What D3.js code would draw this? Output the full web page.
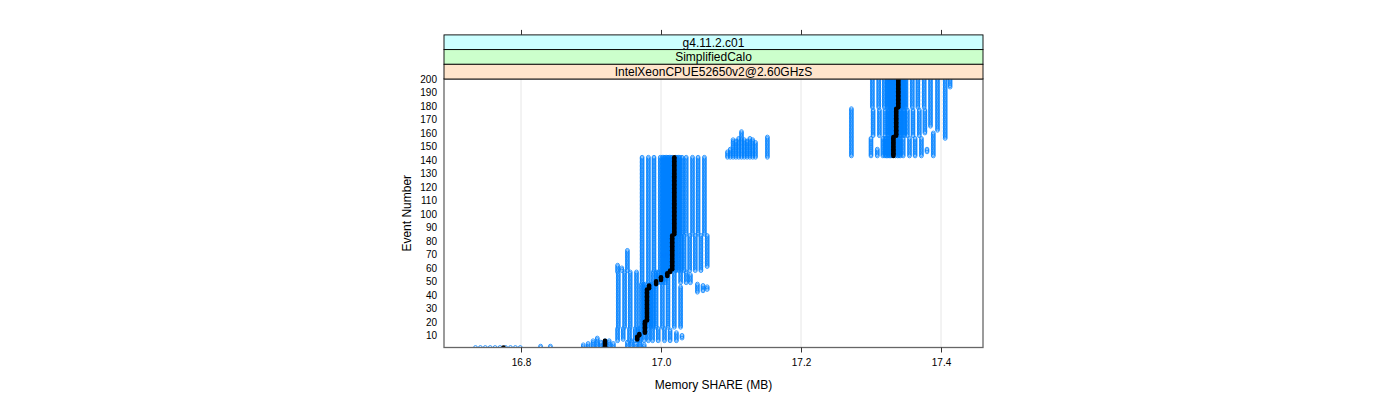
<!DOCTYPE html>
<html lang="en">

<head>
	<meta charset="UTF-8">
	<title>memory share</title>
	<script type="text/javascript" src="https://cdn.jsdelivr.net/npm/d3@7/dist/d3.min.js" charset="UTF-8"></script>
	<style>
		body { margin: 0; background: #fff; }
		text { font-family: "Liberation Sans", Arial, sans-serif; }
	</style>
</head>

<body>
	<script type="text/javascript">
	// strip labels, top to bottom
	let strips = ['g4.11.2.c01', 'SimplifiedCalo', 'IntelXeonCPUE52650v2@2.60GHzS']
	let stripColors = ['#ccffff', '#ccffcc', '#ffe5cc']

	let xTicks = [16.8, 17.0, 17.2, 17.4]
	let yTicks = [10, 20, 30, 40, 50, 60, 70, 80, 90, 100, 110, 120, 130, 140, 150, 160, 170, 180, 190, 200]

	// blue points, one column per entry: [memory MB, first event, last event]
	let lowTail = [
		[16.735, 1, 1], [16.742, 1, 1], [16.749, 1, 1], [16.756, 1, 1], [16.763, 1, 1],
		[16.770, 1, 1], [16.778, 1, 1], [16.785, 1, 1], [16.792, 1, 1], [16.799, 1, 1],
		[16.828, 1, 2], [16.842, 1, 2],
		[16.889, 1, 3], [16.896, 1, 4], [16.903, 1, 6], [16.909, 1, 8], [16.914, 1, 5],
		[16.920, 1, 6], [16.926, 1, 6], [16.932, 1, 4],
		[16.952, 1, 5], [16.958, 1, 6], [16.964, 1, 4], [16.970, 1, 5], [16.976, 1, 3]
	]

	let lowerBlock = [
		// events 6-15
		[16.938, 6, 15], [16.946, 7, 15], [16.955, 6, 15], [16.963, 6, 15], [16.967, 6, 15],
		[16.970, 6, 15], [16.976, 6, 15], [16.982, 6, 15], [16.988, 6, 15], [16.996, 6, 15],
		[17.005, 6, 15], [17.013, 6, 14], [17.022, 6, 12], [17.030, 8, 10],
		// events 16-48
		[16.939, 16, 48], [16.948, 16, 48], [16.956, 16, 48], [16.965, 16, 48], [16.972, 16, 48],
		[16.975, 16, 48], [16.978, 16, 48], [16.983, 16, 48], [16.986, 16, 48], [16.989, 16, 48],
		[16.993, 16, 48], [17.002, 16, 48], [17.010, 16, 48], [17.019, 16, 48], [17.028, 16, 46],
		[17.052, 42, 48], [17.060, 43, 47], [17.066, 44, 46],
		// events 49-57
		[16.939, 49, 56], [16.948, 49, 57], [16.956, 49, 57], [16.965, 49, 57], [16.973, 49, 57],
		[16.982, 49, 57], [16.989, 49, 57], [16.993, 49, 57], [16.996, 49, 57], [17.000, 49, 57],
		[17.003, 49, 57], [17.006, 49, 57], [17.010, 49, 57], [17.019, 49, 57], [17.028, 49, 57],
		[17.036, 49, 57], [17.042, 49, 55],
		// small columns left of the middle block
		[16.938, 57, 62], [16.944, 58, 60], [16.952, 58, 73]
	]

	let middleBlock = [
		// left part, events 58-142
		[16.973, 58, 142], [16.982, 58, 142], [16.990, 58, 142], [16.999, 58, 142],
		[17.002, 58, 142], [17.004, 58, 142], [17.006, 58, 142], [17.008, 58, 142],
		[17.010, 58, 142], [17.012, 58, 142], [17.014, 58, 142], [17.016, 58, 142],
		// right part, events 85-142
		[17.021, 85, 142], [17.023, 85, 142], [17.025, 85, 142], [17.027, 85, 142],
		[17.030, 85, 142], [17.036, 85, 142], [17.045, 85, 142], [17.053, 85, 142],
		[17.062, 85, 142],
		// right part, events 58-84
		[17.020, 58, 84], [17.022, 58, 84], [17.026, 58, 84], [17.029, 58, 84],
		[17.033, 58, 84], [17.041, 58, 84], [17.049, 58, 84], [17.057, 58, 84],
		[17.066, 61, 84]
	]

	let clusterB = [
		[17.095, 142, 146], [17.099, 142, 148], [17.103, 142, 155], [17.107, 142, 154],
		[17.111, 142, 156], [17.115, 142, 161], [17.119, 142, 155], [17.123, 142, 154],
		[17.127, 142, 156], [17.131, 142, 155], [17.135, 142, 153], [17.152, 142, 157]
	]

	let upperBlock = [
		[17.272, 143, 178],
		// events 179-200
		[17.302, 179, 200], [17.311, 179, 200], [17.319, 179, 200], [17.323, 179, 200],
		[17.325, 179, 200], [17.327, 179, 200], [17.329, 179, 200], [17.331, 179, 200],
		[17.333, 179, 200], [17.336, 179, 200], [17.342, 179, 200], [17.344, 179, 200],
		[17.346, 179, 200], [17.348, 179, 200], [17.350, 179, 200], [17.359, 179, 200],
		[17.367, 179, 200], [17.376, 179, 200], [17.385, 179, 200],
		// events 158-177
		[17.303, 158, 177], [17.312, 158, 177], [17.320, 158, 177], [17.324, 158, 177],
		[17.326, 158, 177], [17.328, 158, 177], [17.330, 158, 177], [17.332, 158, 177],
		[17.339, 158, 177], [17.341, 158, 177], [17.343, 158, 177], [17.346, 158, 177],
		[17.348, 158, 177], [17.352, 158, 177], [17.360, 158, 177], [17.369, 158, 177],
		[17.377, 160, 177],
		// events 143-156
		[17.300, 143, 156], [17.309, 143, 148], [17.317, 143, 156], [17.320, 143, 156],
		[17.322, 143, 156], [17.324, 143, 156], [17.326, 143, 156], [17.328, 143, 156],
		[17.330, 143, 156], [17.335, 143, 156], [17.338, 143, 156], [17.340, 143, 156],
		[17.342, 143, 156], [17.346, 143, 156], [17.355, 143, 156], [17.363, 143, 156],
		[17.372, 143, 156], [17.380, 146, 148], [17.389, 143, 160],
		// long columns on the right
		[17.385, 165, 178], [17.395, 162, 200], [17.406, 156, 200], [17.413, 194, 200]
	]

	// black median points: [memory MB, first event, last event]
	let medianSteps = [
		[16.775, 1, 1], [16.920, 2, 6], [16.966, 7, 9], [16.969, 10, 11],
		[16.977, 12, 20], [16.980, 21, 44], [16.983, 45, 47], [16.993, 48, 50],
		[17.000, 51, 53], [17.009, 54, 56], [17.013, 57, 58], [17.016, 59, 84],
		[17.019, 85, 142], [17.332, 143, 157], [17.336, 158, 178], [17.339, 179, 200]
	]

	function expand(cols) {
		let pts = []
		cols.forEach(c => {
			for (let e = c[1]; e <= c[2]; e++) pts.push([c[0], e])
		})
		return pts
	}

	let bluePoints = expand([].concat(lowTail, lowerBlock, middleBlock, clusterB, upperBlock))
	let medianPoints = expand(medianSteps)

	let pLeft = 444, pRight = 983, pTop = 79, pBottom = 347.5
	let stripH = 14.7

	let x = d3.scaleLinear().domain([16.690, 17.460]).range([pLeft, pRight])
	let y = d3.scaleLinear().domain([1, 200]).range([pBottom, pTop])

	let svg = d3.select('body').append('svg')
		.attr('width', 1400)
		.attr('height', 400)

	svg.append('clipPath').attr('id', 'clip')
		.append('rect')
		.attr('x', pLeft).attr('y', pTop)
		.attr('width', pRight - pLeft).attr('height', pBottom - pTop)

	// grid
	svg.selectAll('.grid')
		.data(xTicks)
		.enter()
		.append('line')
		.attr('x1', d => x(d)).attr('x2', d => x(d))
		.attr('y1', pTop).attr('y2', pBottom)
		.attr('stroke', '#e6e6e6')
		.attr('stroke-width', 1)

	let plot = svg.append('g').attr('clip-path', 'url(#clip)')

	plot.selectAll('.pt')
		.data(bluePoints)
		.enter()
		.append('circle')
		.attr('cx', d => x(d[0]))
		.attr('cy', d => y(d[1]))
		.attr('r', 1.9)
		.attr('fill', 'none')
		.attr('stroke', '#0080ff')
		.attr('stroke-width', 0.8)

	plot.selectAll('.med')
		.data(medianPoints)
		.enter()
		.append('circle')
		.attr('cx', d => x(d[0]))
		.attr('cy', d => y(d[1]))
		.attr('r', 2.3)
		.attr('fill', '#000')

	// panel border
	svg.append('rect')
		.attr('x', pLeft).attr('y', pTop)
		.attr('width', pRight - pLeft).attr('height', pBottom - pTop)
		.attr('fill', 'none')
		.attr('stroke', '#666')
		.attr('stroke-width', 1.3)

	// strips
	strips.forEach((s, i) => {
		let sy = pTop - stripH * (strips.length - i)
		svg.append('rect')
			.attr('x', pLeft).attr('y', sy)
			.attr('width', pRight - pLeft).attr('height', stripH)
			.attr('fill', stripColors[i])
			.attr('stroke', '#000')
			.attr('stroke-width', 0.9)
		svg.append('text')
			.attr('x', (pLeft + pRight) / 2)
			.attr('y', sy + stripH / 2 + 4.3)
			.attr('text-anchor', 'middle')
			.attr('font-size', '12px')
			.text(s)
	})

	let stripTop = pTop - stripH * strips.length

	// axes
	let bottomAxis = d3.axisBottom(x).tickValues(xTicks).tickFormat(d3.format('.1f')).tickSize(5).tickPadding(6)
	let gx = svg.append('g').attr('transform', 'translate(0,' + pBottom + ')').call(bottomAxis)
	gx.select('.domain').remove()
	gx.selectAll('text').attr('font-size', '10px').attr('font-family', null)
	gx.selectAll('line').attr('stroke', '#333')

	let topAxis = d3.axisTop(x).tickValues(xTicks).tickFormat('').tickSize(5)
	let gt = svg.append('g').attr('transform', 'translate(0,' + stripTop + ')').call(topAxis)
	gt.select('.domain').remove()
	gt.selectAll('line').attr('stroke', '#333')

	let leftAxis = d3.axisLeft(y).tickValues(yTicks).tickSize(0).tickPadding(7)
	let gy = svg.append('g').attr('transform', 'translate(' + pLeft + ',0)').call(leftAxis)
	gy.select('.domain').remove()
	gy.selectAll('text').attr('font-size', '10px').attr('font-family', null)

	svg.append('text')
		.attr('x', (pLeft + pRight) / 2)
		.attr('y', 389)
		.attr('text-anchor', 'middle')
		.attr('font-size', '12px')
		.text('Memory SHARE (MB)')

	svg.append('text')
		.attr('transform', 'translate(410.5,' + (pTop + pBottom) / 2 + ') rotate(-90)')
		.attr('text-anchor', 'middle')
		.attr('font-size', '12px')
		.text('Event Number')
	</script>
</body>

</html>
